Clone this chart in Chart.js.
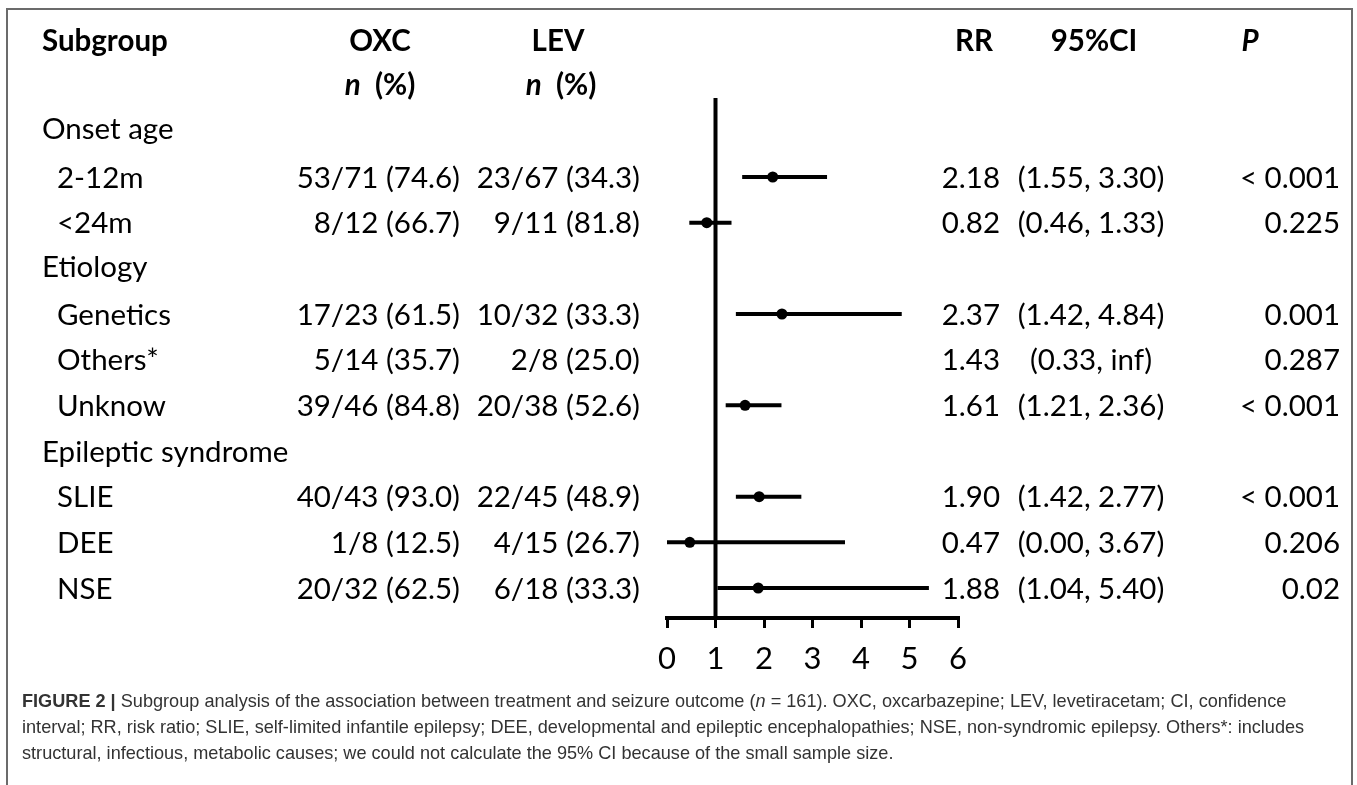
<!DOCTYPE html>
<html><head><meta charset="utf-8">
<script src="https://cdn.jsdelivr.net/npm/chart.js@4.4.1/dist/chart.umd.min.js"></script>
<style>
html,body{margin:0;padding:0;background:#fff;width:1357px;height:785px;overflow:hidden;}
#frame{position:absolute;left:6px;top:8px;width:1347px;height:800px;border:2px solid #6b6b6b;box-sizing:border-box;}
#wrap{position:absolute;left:0;top:0;width:1357px;height:690px;}
#cap{position:absolute;left:22px;top:688px;font-family:"Liberation Sans",Arial,sans-serif;font-size:17px;color:#333;line-height:26px;white-space:nowrap;}
#cap div{white-space:nowrap;}
</style></head><body>
<div id="frame"></div>
<div id="wrap"><canvas id="c" width="1357" height="690"></canvas></div>
<div id="cap">
<div id="l1"><b>FIGURE 2 |</b> Subgroup analysis of the association between treatment and seizure outcome (<i>n</i> = 161). OXC, oxcarbazepine; LEV, levetiracetam; CI, confidence</div>
<div>interval; RR, risk ratio; SLIE, self-limited infantile epilepsy; DEE, developmental and epileptic encephalopathies; NSE, non-syndromic epilepsy. Others*: includes</div>
<div>structural, infectious, metabolic causes; we could not calculate the 95% CI because of the small sample size.</div>
</div>
<script>
// ---- data ----
const rowLabels = ['Onset age','2-12m','<24m','Etiology','Genetics','Others*','Unknow','Epileptic syndrome','SLIE','DEE','NSE'];
const isGroup   = [true,false,false,true,false,false,false,true,false,false,false];
const rowPos    = [1.93,3,4,4.95,6,7,8,9,10,11,12];
const oxcText   = ['','53/71 (74.6)','8/12 (66.7)','','17/23 (61.5)','5/14 (35.7)','39/46 (84.8)','','40/43 (93.0)','1/8 (12.5)','20/32 (62.5)'];
const levText   = ['','23/67 (34.3)','9/11 (81.8)','','10/32 (33.3)','2/8 (25.0)','20/38 (52.6)','','22/45 (48.9)','4/15 (26.7)','6/18 (33.3)'];
const rrValues  = [null,2.18,0.82,null,2.37,1.43,1.61,null,1.90,0.47,1.88];
const ciLow     = [null,1.55,0.46,null,1.42,0.33,1.21,null,1.42,0.00,1.04];
const ciHigh    = [null,3.30,1.33,null,4.84,null,2.36,null,2.77,3.67,5.40]; // null = inf, not plotted
const ciText    = ['','(1.55, 3.30)','(0.46, 1.33)','','(1.42, 4.84)','(0.33, inf)','(1.21, 2.36)','','(1.42, 2.77)','(0.00, 3.67)','(1.04, 5.40)'];
const pText     = ['','< 0.001','0.225','','0.001','0.287','< 0.001','','< 0.001','0.206','0.02'];
const xTicks    = [0,1,2,3,4,5,6];
const refValue  = 1;
const refTopRow = 1.27;
const axisRow   = 12.657;

// fit caption line 1 width
(function(){
  const l1 = document.getElementById('l1');
  const cap = document.getElementById('cap');
  const s = document.createElement('span'); s.innerHTML = l1.innerHTML; s.style.whiteSpace='nowrap';
  l1.innerHTML=''; l1.appendChild(s);
  const w = s.getBoundingClientRect().width;
  cap.style.fontSize = (17*1265/w).toFixed(2)+'px';
})();

function build(){
  const plotted = rrValues.map((v,i)=> (v!==null && ciHigh[i]!==null) ? i : -1).filter(i=>i>=0);
  const datasets = [];
  datasets.push({type:'line', data:[{x:refValue,y:refTopRow},{x:refValue,y:axisRow}], borderColor:'#000', borderWidth:4, pointRadius:0, order:3, borderCapStyle:'butt'});
  plotted.forEach(i=>{
    datasets.push({type:'line', data:[{x:ciLow[i],y:rowPos[i]},{x:ciHigh[i],y:rowPos[i]}], borderColor:'#000', borderWidth:4, pointRadius:0, order:2, borderCapStyle:'butt'});
  });
  datasets.push({type:'scatter', data: plotted.map(i=>({x:rrValues[i], y:rowPos[i]})), pointRadius:5.5, backgroundColor:'#000', borderWidth:0, order:0});

  const textPlugin = {
    id:'tableText',
    afterDraw(chart){
      const ctx = chart.ctx, ys = chart.scales.y;
      const FS = 29.5, off = FS*0.36;
      const Y = r => ys.getPixelForValue(r) + off;
      ctx.save();
      ctx.fillStyle = '#000';
      ctx.textBaseline = 'alphabetic';
      const reg = FS+'px Lato', bold = 'bold '+FS+'px Lato', bi = 'italic bold '+FS+'px Lato';
      function t(s,x,r,align,font){ ctx.font=font; ctx.textAlign=align; ctx.fillText(s,x,Y(r)); }
      // headers
      t('Subgroup',42,0,'left',bold);
      t('OXC',380,0,'center',bold);
      t('LEV',558,0,'center',bold);
      t('RR',974,0,'center',bold);
      t('95%CI',1094,0,'center',bold);
      t('P',1250,0,'center',bi);
      function npct(cx){
        ctx.font=bi; const w1=ctx.measureText('n').width;
        ctx.font=bold; const w2=ctx.measureText('  (%)').width;
        const x0 = cx-(w1+w2)/2;
        t('n',x0,0.98,'left',bi);
        t('  (%)',x0+w1,0.98,'left',bold);
      }
      npct(380); npct(561);
      rowLabels.forEach((lab,i)=>{
        t(lab, isGroup[i]?42:57, rowPos[i], 'left', reg);
        if(oxcText[i]) t(oxcText[i],460,rowPos[i],'right',reg);
        if(levText[i]) t(levText[i],640,rowPos[i],'right',reg);
        if(rrValues[i]!==null) t(rrValues[i].toFixed(2),1000,rowPos[i],'right',reg);
        if(ciText[i]) t(ciText[i],1091,rowPos[i],'center',reg);
        if(pText[i]) t(pText[i],1340,rowPos[i],'right',reg);
      });
      ctx.restore();
    }
  };

  new Chart(document.getElementById('c'), {
    type:'scatter',
    data:{datasets},
    options:{
      responsive:false, animation:false, devicePixelRatio:1,
      layout:{padding:{left:667,right:399,top:40,bottom:10}},
      plugins:{legend:{display:false}, tooltip:{enabled:false}},
      scales:{
        x:{type:'linear', min:0, max:6,
           afterBuildTicks(a){ a.ticks = xTicks.map(v=>({value:v})); },
           ticks:{color:'#000', font:{family:'Lato', size:31}, padding:12},
           grid:{drawOnChartArea:false, drawTicks:true, tickLength:10, color:'#000', lineWidth:3},
           border:{display:true, color:'#000', width:4},
           afterFit(a){ a.height = 62; }},
        y:{type:'linear', display:false, reverse:true, min:0, max:axisRow}
      }
    },
    plugins:[textPlugin]
  });
}
const fl = document.fonts ? Promise.all(['29.5px Lato','bold 29.5px Lato','italic bold 29.5px Lato','31px Lato'].map(f=>document.fonts.load(f))) : Promise.resolve();
fl.then(build, build);
</script>
</body></html>
